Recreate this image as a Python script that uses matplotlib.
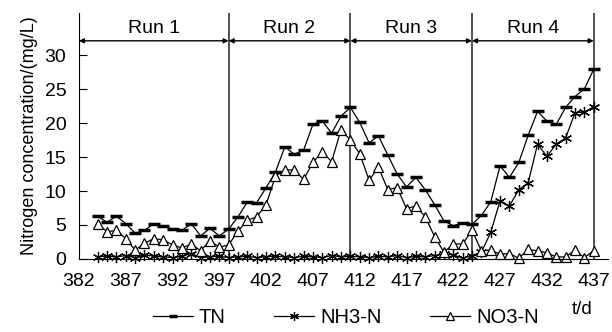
import numpy as np
import matplotlib
matplotlib.use("Agg")
import matplotlib.pyplot as plt

plt.rcParams['font.family'] = ['Liberation Sans', 'DejaVu Sans']

days = np.arange(384, 438)

tn = [6.3, 5.4, 6.3, 5.2, 3.8, 4.2, 5.2, 4.8, 4.4, 4.2, 5.2, 3.4, 4.5, 3.4,
      4.4, 6.2, 8.4, 8.3, 10.5, 12.8, 16.5, 15.4, 16.0, 19.8, 20.3, 18.5, 21.0,
      22.3, 20.1, 17.1, 18.1, 15.3, 12.5, 10.6, 12.0, 10.2, 8.0, 5.6, 4.9, 5.3,
      5.1, 6.4, 8.4, 13.7, 12.0, 14.2, 18.2, 21.7, 20.3, 19.8, 22.3, 23.9, 25.0, 27.9]

nh3 = [0.3, 0.4, 0.3, 0.5, 0.2, 0.6, 0.4, 0.3, 0.2, 0.4, 0.8, 0.2, 0.3, 0.4,
       0.2, 0.3, 0.4, 0.2, 0.3, 0.4, 0.3, 0.2, 0.4, 0.3, 0.2, 0.5, 0.3, 0.4,
       0.3, 0.2, 0.4, 0.3, 0.5, 0.2, 0.4, 0.3, 0.5, 0.7, 0.6, 0.1, 0.5,
       1.0, 3.9, 8.6, 7.8, 10.2, 11.2, 16.9, 15.1, 16.9, 17.8, 21.5, 21.6, 22.4]

no3 = [5.2, 4.0, 4.2, 3.0, 1.3, 2.3, 3.0, 2.8, 2.1, 1.6, 2.2, 1.2, 2.7, 1.7,
       2.1, 4.1, 5.7, 6.2, 8.0, 12.2, 13.1, 13.1, 11.7, 14.2, 15.8, 14.3, 19.0,
       17.5, 15.5, 11.6, 13.5, 10.2, 10.5, 7.4, 7.8, 6.2, 3.3, 1.0, 2.2, 2.2,
       4.2, 1.2, 1.3, 0.7, 0.8, 0.1, 1.4, 1.2, 0.9, 0.3, 0.3, 1.3, 0.2, 1.2]

run_edges = [382, 398, 411, 424, 437]
run_names = ["Run 1", "Run 2", "Run 3", "Run 4"]

fig = plt.figure(figsize=(6.12, 3.32), dpi=100)
ax = fig.add_axes([0.129, 0.22, 0.864, 0.741])

ax.plot(days, tn, color='k', lw=0.9, marker='_', ms=8, mew=2.5, label='TN')
ax.plot(days, nh3, color='k', lw=0.9, marker=(6, 2, 0), ms=8, mew=0.9,
        label='NH3-N', clip_on=False)
ax.plot(days, no3, color='k', lw=0.9, marker='^', ms=7.5, mew=0.9,
        mfc='white', label='NO3-N', clip_on=False)

for x in run_edges[1:]:
    ax.axvline(x, color='#222222', lw=1.1, zorder=0)

for i, name in enumerate(run_names):
    a, b = run_edges[i], run_edges[i + 1]
    ax.annotate('', xy=(b, 32.1), xytext=(a, 32.1),
                arrowprops=dict(arrowstyle='<|-|>', lw=1.0, color='k',
                                mutation_scale=7, shrinkA=0, shrinkB=0))
    ax.text((a + b) / 2, 32.7, name, ha='center', va='bottom', fontsize=14)

ax.set_xlim(382, 438.5)
ax.set_ylim(0, 36.2)
ax.set_xticks(np.arange(382, 438, 5))
ax.set_yticks(np.arange(0, 31, 5))
ax.tick_params(axis='y', direction='in', length=6, labelsize=14, pad=9)
ax.tick_params(axis='x', length=0, labelsize=14, pad=10)
ax.spines['top'].set_visible(False)
ax.spines['right'].set_visible(False)
ax.set_ylabel('Nitrogen concentration/(mg/L)', fontsize=13, labelpad=5)

fig.text(0.951, 0.055, 't/d', fontsize=13.5, ha='center')
fig.legend(loc='lower center', bbox_to_anchor=(0.565, -0.04), ncol=3,
           frameon=False, fontsize=14.5, handlelength=2.0, columnspacing=2.4,
           handletextpad=0.3, markerscale=0.8)

fig.savefig('out.png', dpi=100)
